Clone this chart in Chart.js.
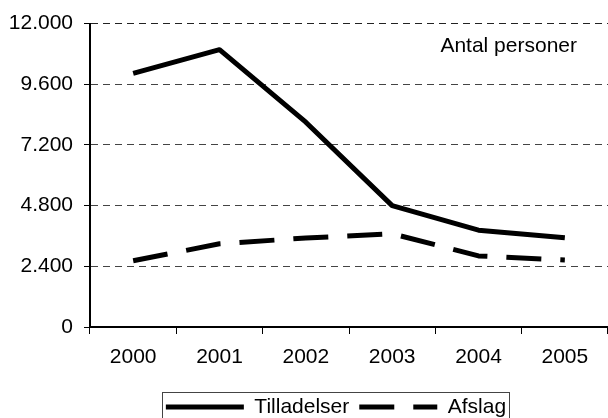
<!DOCTYPE html>
<html>
<head>
<meta charset="utf-8">
<script src="https://cdn.jsdelivr.net/npm/chart.js@4/dist/chart.umd.min.js"></script>
<style>
  html, body { margin: 0; padding: 0; background: #fff; }
  #wrap { width: 608px; height: 418px; }
</style>
</head>
<body>
<div id="wrap"><canvas id="c" width="608" height="418"></canvas></div>
<script>
const years = ['2000', '2001', '2002', '2003', '2004', '2005'];
const tilladelser = [10030, 10970, 8100, 4800, 3830, 3530];
const afslag = [2620, 3290, 3520, 3690, 2810, 2650];
const yTicks = [0, 2400, 4800, 7200, 9600, 12000];
const unitLabel = 'Antal personer';

const FONT = 'Liberation Sans, Arial, sans-serif';
Chart.defaults.font.family = FONT;
Chart.defaults.font.size = 21;
Chart.defaults.color = '#000';

const extras = {
  id: 'extras',
  afterLayout(chart) {
    const lg = chart.legend;
    if (lg) { lg.left += 32; lg.right += 32; }
  },
  afterDraw(chart) {
    const ctx = chart.ctx;
    const ca = chart.chartArea;
    ctx.save();
    ctx.font = '21px ' + FONT;
    ctx.fillStyle = '#000';
    ctx.textAlign = 'right';
    ctx.textBaseline = 'middle';
    ctx.fillText(unitLabel, ca.right - 31, ca.top + 23);
    const lg = chart.legend;
    if (lg && lg.legendHitBoxes && lg.legendHitBoxes.length) {
      const hb = lg.legendHitBoxes;
      const l = hb[0].left - 4;
      const last = hb[hb.length - 1];
      const r = last.left + last.width + 3;
      const t = hb[0].top - 5;
      ctx.strokeStyle = '#444';
      ctx.lineWidth = 1;
      ctx.strokeRect(Math.round(l) + 0.5, Math.round(t) + 0.5, Math.round(r - l), 60);
    }
    ctx.restore();
  }
};

new Chart(document.getElementById('c'), {
  type: 'line',
  data: {
    labels: years,
    datasets: [
      {
        label: 'Tilladelser',
        data: tilladelser,
        borderColor: '#000',
        backgroundColor: '#000',
        borderWidth: 5,
        pointRadius: 0,
        tension: 0,
        borderJoinStyle: 'round'
      },
      {
        label: 'Afslag',
        data: afslag,
        borderColor: '#000',
        backgroundColor: '#000',
        borderWidth: 5,
        borderDash: [35, 19],
        pointRadius: 0,
        tension: 0,
        borderJoinStyle: 'round'
      }
    ]
  },
  options: {
    responsive: false,
    animation: false,
    devicePixelRatio: 1,
    layout: { padding: { top: 23, left: 0, right: 0, bottom: -9.5 } },
    plugins: {
      legend: {
        position: 'bottom',
        align: 'center',
        labels: {
          usePointStyle: true,
          pointStyle: 'line',
          pointStyleWidth: 78,
          padding: 10,
          color: '#000',
          font: { size: 21, family: FONT },
          generateLabels(chart) {
            const items = Chart.defaults.plugins.legend.labels.generateLabels(chart);
            items.forEach(it => {
              const ds = chart.data.datasets[it.datasetIndex];
              it.lineDash = ds.borderDash || [];
              it.lineWidth = ds.borderWidth;
              it.strokeStyle = ds.borderColor;
              it.lineCap = 'butt';
              it.pointStyle = 'line';
            });
            return items;
          }
        }
      },
      tooltip: { enabled: false }
    },
    scales: {
      x: {
        offset: true,
        afterFit(s) { s.height = 59.5; },
        grid: {
          offset: true,
          drawOnChartArea: false,
          drawTicks: true,
          tickLength: 7,
          tickColor: '#000',
          tickWidth: 1
        },
        border: { display: true, color: '#000', width: 2 },
        ticks: { padding: 11, color: '#000', font: { size: 21, family: FONT }, maxRotation: 0 }
      },
      y: {
        min: 0,
        max: 12000,
        afterFit(s) { s.width = 90; },
        afterBuildTicks(s) { s.ticks = yTicks.map(v => ({ value: v })); },
        grid: {
          color: ctx => (ctx.tick && ctx.tick.value === 0) ? 'rgba(0,0,0,0)' : (ctx.tick && ctx.tick.value === 12000 ? '#222' : '#444'),
          lineWidth: 1,
          tickBorderDash: [],
          drawTicks: true,
          tickLength: 6,
          tickColor: '#000',
          tickWidth: 1
        },
        border: { display: true, color: '#000', width: 2, dash: [7, 5] },
        ticks: {
          padding: 11,
          color: '#000',
          font: { size: 21, family: FONT },
          callback: v => v.toLocaleString('da-DK')
        }
      }
    }
  },
  plugins: [extras]
});
</script>
</body>
</html>
